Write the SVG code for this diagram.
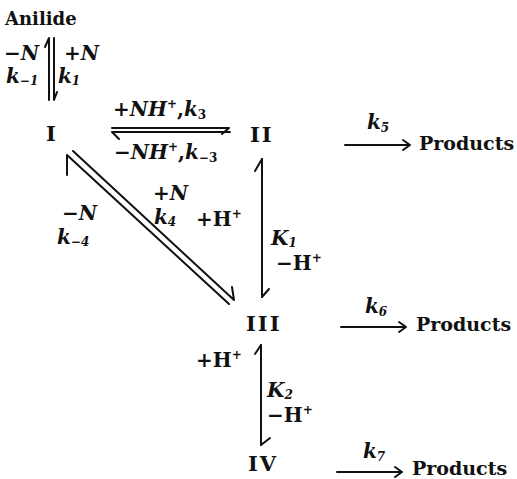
<svg xmlns="http://www.w3.org/2000/svg" width="517" height="479" viewBox="0 0 517 479">
<style>
text{font-family:"DejaVu Serif","Liberation Serif",serif;font-weight:bold;fill:#111}
.lbl{font-size:20px}
.it{font-style:italic}
.node{font-size:21px;letter-spacing:2px}
.word{font-size:19px}
.sub{font-size:12px}
.sup{font-size:12px}
.ln{stroke:#111;stroke-width:2;fill:none;stroke-linecap:round;stroke-linejoin:round}
</style>
<rect width="517" height="479" fill="#fff"/>
<g id="anilide"><text class="word" x="5" y="25" style="font-size:18px">Anilide</text></g>
<g id="I"><text class="node" x="46" y="141">I</text></g>
<g id="II"><text class="node" x="250" y="142">II</text></g>
<g id="III"><text class="node" x="246" y="331">III</text></g>
<g id="IV"><text class="node" x="248" y="471">IV</text></g>
<g id="products5"><text class="word" x="419" y="150">Products</text></g>
<g id="products6"><text class="word" x="416" y="331">Products</text></g>
<g id="products7"><text class="word" x="412" y="475">Products</text></g>
<g id="connectors">
<path class="ln" d="M49,100 L49,38 L45,47"/>
<path class="ln" d="M54,38 L54,100 L57,92"/>
<path class="ln" d="M112,128 L229,128 L222,134"/>
<path class="ln" d="M230,132 L112,132 L119,139"/>
<path class="ln" d="M229,304 L67,155 L67,175"/>
<path class="ln" d="M73,151 L234,300 L232,287"/>
<path class="ln" d="M262,297 L262,159 L255,171"/>
<path class="ln" d="M262,159 L262,297 L269,289"/>
<path class="ln" d="M261,445 L261,345 L255,354"/>
<path class="ln" d="M261,345 L261,445 L270,438"/>
<path class="ln" d="M345,145 L410,145 M403,140 L410,145 L403,150"/>
<path class="ln" d="M341,327 L406,327 M399,322 L406,327 L399,332"/>
<path class="ln" d="M337,472 L402,472 M395,467 L402,472 L395,477"/>
</g>
<g id="labels">
<text class="lbl" x="4" y="60">−<tspan class="it">N</tspan></text>
<text class="lbl it" x="6" y="83">k<tspan class="sub" dy="2">−1</tspan></text>
<text class="lbl" x="64" y="60">+<tspan class="it">N</tspan></text>
<text class="lbl it" x="58" y="83">k<tspan class="sub" dy="2">1</tspan></text>
<text class="lbl" x="113" y="116">+<tspan class="it">NH</tspan><tspan class="sup" dy="-8">+</tspan><tspan dy="8">,</tspan><tspan class="it">k</tspan><tspan class="sub" dy="3">3</tspan></text>
<text class="lbl" x="114" y="159">−<tspan class="it">NH</tspan><tspan class="sup" dy="-8">+</tspan><tspan dy="8">,</tspan><tspan class="it">k</tspan><tspan class="sub" dy="3">−3</tspan></text>
<text class="lbl it" x="367" y="129">k<tspan class="sub" dy="3">5</tspan></text>
<text class="lbl it" x="365" y="313">k<tspan class="sub" dy="3">6</tspan></text>
<text class="lbl it" x="363" y="458">k<tspan class="sub" dy="3">7</tspan></text>
<text class="lbl" x="153" y="200">+<tspan class="it">N</tspan></text>
<text class="lbl it" x="154" y="224">k<tspan class="sub" dy="2">4</tspan></text>
<text class="lbl" x="196" y="226">+H<tspan class="sup" dy="-8">+</tspan></text>
<text class="lbl" x="62" y="220">−<tspan class="it">N</tspan></text>
<text class="lbl it" x="57" y="244">k<tspan class="sub" dy="2">−4</tspan></text>
<text class="lbl it" x="271" y="245">K<tspan class="sub" dy="2">1</tspan></text>
<text class="lbl" x="276" y="270">−H<tspan class="sup" dy="-8">+</tspan></text>
<text class="lbl" x="196" y="367">+H<tspan class="sup" dy="-8">+</tspan></text>
<text class="lbl it" x="267" y="397">K<tspan class="sub" dy="2">2</tspan></text>
<text class="lbl" x="267" y="422">−H<tspan class="sup" dy="-8">+</tspan></text>
</g>
</svg>
